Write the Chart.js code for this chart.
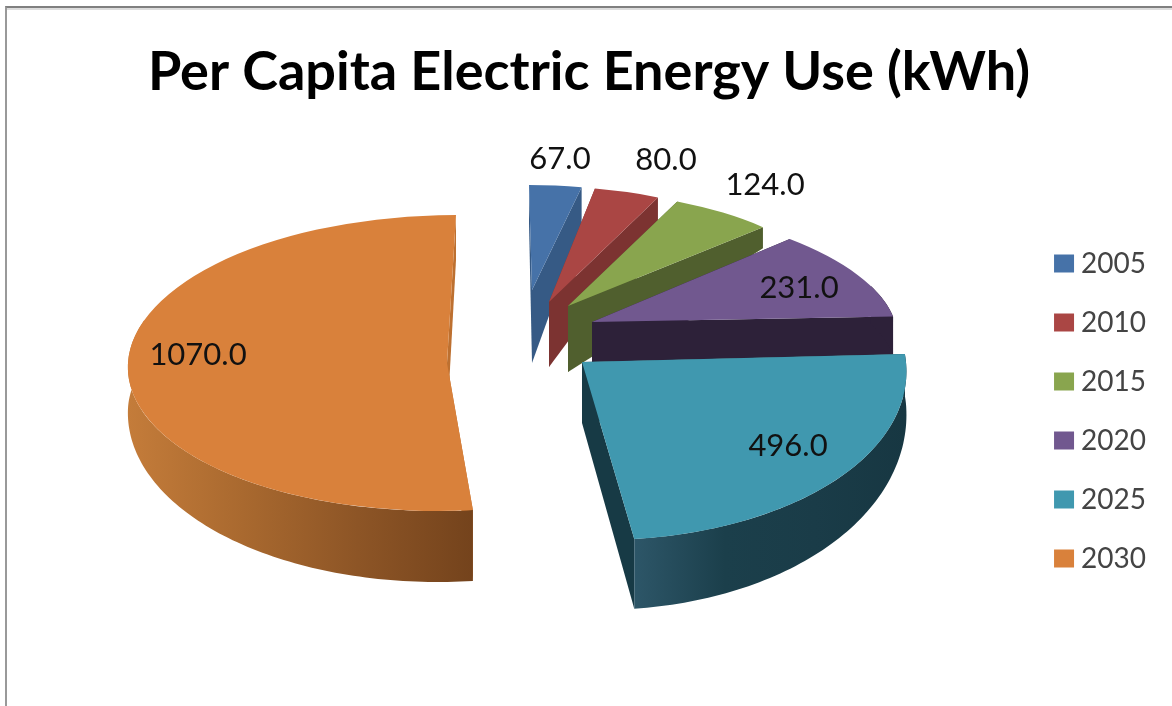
<!DOCTYPE html>
<html>
<head>
<meta charset="utf-8">
<title>Per Capita Electric Energy Use</title>
<style>
    html, body { margin: 0; padding: 0; background: #fff; }
    #frame {
        position: absolute;
        left: 5px;
        top: 6px;
        width: 1167px;
        height: 700px;
        border-left: 2px solid #999;
        border-top: 2px solid #808080;
        box-shadow: inset 0 2px 0 #ddd;
        box-sizing: border-box;
        pointer-events: none;
    }
    canvas { display: block; }
</style>
</head>
<body>
<canvas id="chart" width="1172" height="706"></canvas>
<div id="frame"></div>
<script src="https://cdn.jsdelivr.net/npm/chart.js@4"></script>
<script>
'use strict';

const years = ['2005', '2010', '2015', '2020', '2025', '2030'];
const usage = [67, 80, 124, 231, 496, 1070];

const topColors = ['#4672a8', '#aa4644', '#89a54e', '#71588f', '#4098af', '#d9813b'];
const cutColors = ['#365a85', '#7c3331', '#505f2e', '#2d2139', '#173a45', '#bd7030'];
const rimColors = [
    ['#365a85'],
    ['#7c3331'],
    ['#505f2e'],
    ['#2d2139'],
    ['#2d5668', '#1b3f4b', '#1a3c48', '#173742'],
    ['#c47c3a', '#a9692f', '#8d5526', '#74431c']
];

// Where each wedge sits and how it is tilted, relative to pieCenter
const pieCenter = { x: 515, y: 340 };
const explodeX = [17, 34, 53, 77, 67, -68];
const explodeY = [-50, -38, -34, -18, 22, 23];
const radiusX = [260, 271, 276, 303, 324, 319];
const radiusY = [105, 116, 116, 122, 178, 148];
const skewX = [3, 9, 11, 36, 17, -9];

// Wall heights: at the wedge tip, on the sides of the rim, at the front of the rim
const tipDepth = [73, 65, 66, 40, 61, 60];
const sideDepth = [38, 23, 21, 38, 42, 45];
const frontDepth = [38, 23, 21, 38, 70, 71];

const labelX = [560, 666, 765, 799, 788, 198];
const labelY = [159, 160, 185, 288, 446, 355];

// Back wedges first so the two big ones overlap them
const drawOrder = [0, 1, 2, 3, 5, 4];

function fillPolygon(ctx, points, fill) {
    ctx.beginPath();
    points.forEach((p, i) => (i ? ctx.lineTo(p.x, p.y) : ctx.moveTo(p.x, p.y)));
    ctx.closePath();
    ctx.fillStyle = fill;
    ctx.fill();
}

function rimGradient(ctx, colors, points) {
    if (colors.length === 1) {
        return colors[0];
    }
    const xs = points.map(p => p.x);
    const grad = ctx.createLinearGradient(Math.min(...xs), 0, Math.max(...xs), 0);
    colors.forEach((c, i) => grad.addColorStop(i / (colors.length - 1), c));
    return grad;
}

// Squashes each flat Chart.js arc into a tilted wedge and extrudes walls under it
const pieExtrude = {
    id: 'pieExtrude',

    beforeDatasetDraw(chart) {
        const ctx = chart.ctx;
        const arcs = chart.getDatasetMeta(0).data;

        drawOrder.forEach(i => {
            const arc = arcs[i];
            const R = arc.outerRadius;
            const tipX = pieCenter.x + explodeX[i];
            const tipY = pieCenter.y + explodeY[i];

            const project = (angle, depth) => {
                const u = Math.cos(angle);
                const v = Math.sin(angle);
                return { x: tipX + radiusX[i] * u + skewX[i] * v, y: tipY + radiusY[i] * v + depth, v };
            };
            const rimDepth = v => sideDepth[i] + (frontDepth[i] - sideDepth[i]) * Math.max(0, v);

            const tip = { x: tipX, y: tipY };
            const tipLow = { x: tipX, y: tipY + tipDepth[i] };
            const edge = angle => {
                const p = project(angle, 0);
                return { top: p, low: project(angle, rimDepth(p.v)) };
            };
            const first = edge(arc.startAngle);
            const last = edge(arc.endAngle);

            // Cut faces running from the tip to the rim
            fillPolygon(ctx, [tip, first.top, first.low, tipLow], cutColors[i]);
            fillPolygon(ctx, [tip, last.top, last.low, tipLow], cutColors[i]);

            // Outer wall along the rim, the far side of it is never seen
            const upper = [];
            const lower = [];
            const steps = Math.ceil((arc.endAngle - arc.startAngle) / 0.02);
            for (let s = 0; s <= steps; s++) {
                const e = edge(arc.startAngle + (arc.endAngle - arc.startAngle) * s / steps);
                if (e.top.v > -0.3) {
                    upper.push(e.top);
                    lower.push(e.low);
                }
            }
            if (upper.length) {
                const shade = rimGradient(ctx, rimColors[i], lower);
                fillPolygon(ctx, upper.concat(lower.slice().reverse()), shade);
            }

            // Top face is the library's own arc under a per-wedge transform
            ctx.save();
            ctx.transform(radiusX[i] / R, 0, skewX[i] / R, radiusY[i] / R, tipX, tipY);
            ctx.translate(-arc.x, -arc.y);
            arc.draw(ctx);
            ctx.restore();
        });

        return false;
    },

    afterDatasetsDraw(chart) {
        const ctx = chart.ctx;
        ctx.save();
        ctx.font = '31px Lato';
        ctx.fillStyle = '#111';
        ctx.textAlign = 'center';
        ctx.textBaseline = 'middle';
        usage.forEach((value, i) => {
            ctx.fillText(value.toFixed(1), labelX[i], labelY[i]);
        });
        ctx.restore();
    }
};

new Chart(document.getElementById('chart'), {
    type: 'pie',
    data: {
        labels: years,
        datasets: [{
            data: usage,
            backgroundColor: topColors,
            borderWidth: 0
        }]
    },
    options: {
        responsive: false,
        animation: false,
        events: [],
        // Negative bottom padding pushes the vertically centred legend down the page
        layout: { padding: { left: 22, top: 40, right: 16, bottom: -76 } },
        plugins: {
            title: {
                display: true,
                text: 'Per Capita Electric Energy Use (kWh)',
                color: '#000',
                font: { family: 'Lato', size: 54, weight: 'bold' },
                padding: { top: 0, bottom: 10 }
            },
            tooltip: { enabled: false },
            legend: {
                position: 'right',
                labels: {
                    color: '#444',
                    font: { family: 'Lato', size: 28 },
                    boxWidth: 6,
                    boxHeight: 4,
                    padding: 31,
                    // Wide stroke makes the swatch larger while keeping the text close to it
                    generateLabels(chart) {
                        return Chart.overrides.pie.plugins.legend.labels.generateLabels(chart).map(item => {
                            item.strokeStyle = item.fillStyle;
                            item.lineWidth = 14;
                            return item;
                        });
                    }
                }
            }
        }
    },
    plugins: [pieExtrude]
});
</script>
</body>
</html>
